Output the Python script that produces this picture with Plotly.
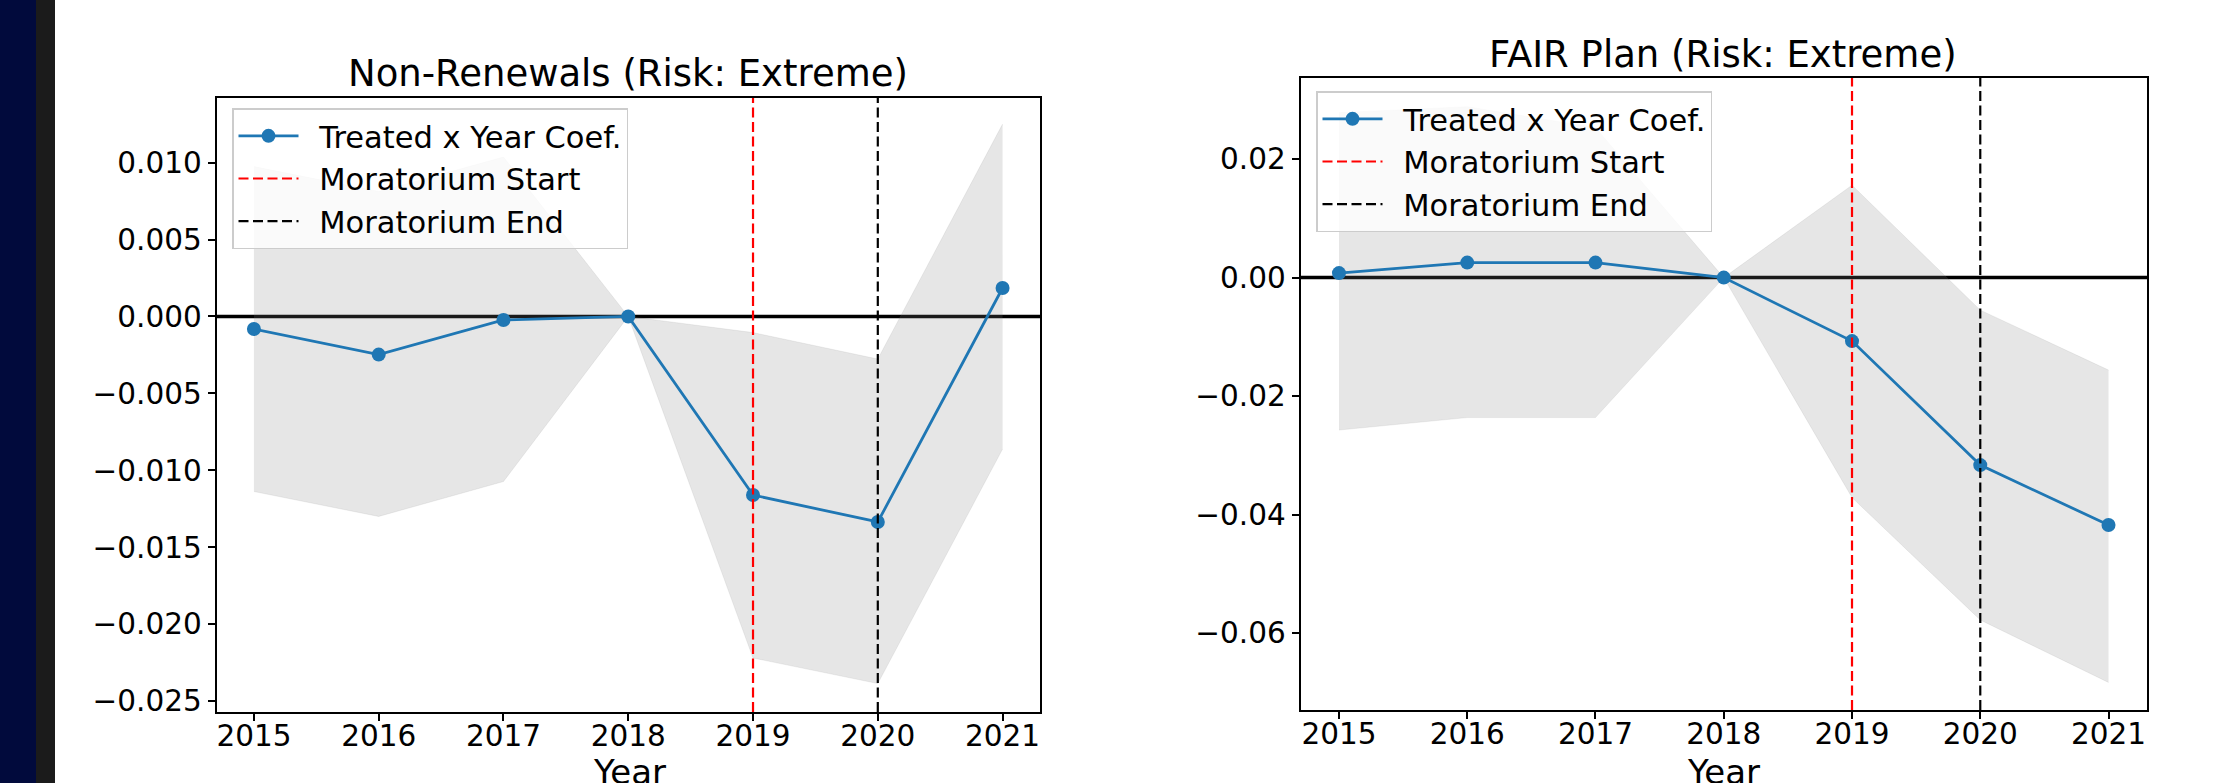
import plotly.graph_objects as go

# ---------------- data ----------------
years = [2015, 2016, 2017, 2018, 2019, 2020, 2021]

nr_coef = [-0.00082, -0.00248, -0.00023, 0.0, -0.01161, -0.01336, 0.00185]
nr_upper = [0.00974, 0.00812, 0.01036, 0.0, -0.00105, -0.00277, 0.01250]
nr_lower = [-0.01138, -0.01300, -0.01073, 0.0, -0.02220, -0.02386, -0.00862]

fp_coef = [0.00076, 0.00253, 0.00253, 0.0, -0.01072, -0.03165, -0.04177]
fp_upper = [0.02785, 0.02886, 0.02532, 0.0, 0.01560, -0.00549, -0.01561]
fp_lower = [-0.02574, -0.02363, -0.02363, 0.0, -0.03713, -0.05780, -0.06835]

moratorium_start = 2019
moratorium_end = 2020

nr_ticks = [0.010, 0.005, 0.0, -0.005, -0.010, -0.015, -0.020, -0.025]
nr_ticktext = ["0.010", "0.005", "0.000", "\u22120.005", "\u22120.010", "\u22120.015", "\u22120.020", "\u22120.025"]
fp_ticks = [0.02, 0.0, -0.02, -0.04, -0.06]
fp_ticktext = ["0.02", "0.00", "\u22120.02", "\u22120.04", "\u22120.06"]

titles = ["Non-Renewals (Risk: Extreme)", "FAIR Plan (Risk: Extreme)"]
xlabel = "Year"
legend_names = ["Treated x Year Coef.", "Moratorium Start", "Moratorium End"]

# ---------------- layout geometry ----------------
W, H = 2231, 783
FONT = "DejaVu Sans"
BLUE = "#1f77b4"
PAD = "\u00a0\u2009"  # small gap between legend symbol and text

nr_range = [-0.02571, 0.01423]
fp_range = [-0.0730, 0.0337]
x_range = [2014.7, 2021.3]

def px_x(p):
    return p / W

def px_y(p):
    return 1 - p / H

fig = go.Figure()

panels = [
    dict(coef=nr_coef, up=nr_upper, lo=nr_lower, xa="x", ya="y", leg="legend", yr=nr_range),
    dict(coef=fp_coef, up=fp_upper, lo=fp_lower, xa="x2", ya="y2", leg="legend2", yr=fp_range),
]

for p in panels:
    # confidence band
    fig.add_trace(go.Scatter(x=years, y=p["up"], mode="lines", line=dict(width=0.8, color="rgba(128,128,128,0.15)"),
                             showlegend=False, hoverinfo="skip", xaxis=p["xa"], yaxis=p["ya"]))
    fig.add_trace(go.Scatter(x=years, y=p["lo"], mode="lines", line=dict(width=0.8, color="rgba(128,128,128,0.15)"),
                             fill="tonexty", fillcolor="rgba(128,128,128,0.2)",
                             showlegend=False, hoverinfo="skip", xaxis=p["xa"], yaxis=p["ya"]))
    # coefficient line
    fig.add_trace(go.Scatter(x=years, y=p["coef"], mode="lines+markers", name=PAD + legend_names[0],
                             line=dict(color=BLUE, width=2.8), marker=dict(color=BLUE, size=14),
                             xaxis=p["xa"], yaxis=p["ya"], legend=p["leg"]))
    # moratorium lines
    fig.add_trace(go.Scatter(x=[moratorium_start, moratorium_start], y=p["yr"], mode="lines",
                             name=PAD + legend_names[1],
                             line=dict(color="red", width=2.2, dash="10px,4.5px"),
                             xaxis=p["xa"], yaxis=p["ya"], legend=p["leg"]))
    fig.add_trace(go.Scatter(x=[moratorium_end, moratorium_end], y=p["yr"], mode="lines",
                             name=PAD + legend_names[2],
                             line=dict(color="black", width=2.2, dash="10px,4.5px"),
                             xaxis=p["xa"], yaxis=p["ya"], legend=p["leg"]))
    # zero line
    fig.add_shape(type="line", xref=p["xa"] + " domain", yref=p["ya"], x0=0, x1=1, y0=0, y1=0,
                  line=dict(color="black", width=3.5), layer="below")

axis_common = dict(showgrid=False, zeroline=False, showline=True, linecolor="black", linewidth=1.8,
                   mirror=True, ticks="outside", ticklen=7, tickwidth=1.6, tickcolor="black",
                   tickfont=dict(family=FONT, size=29.5, color="black"), automargin=False)

legend_common = dict(xanchor="left", yanchor="top", traceorder="normal",
                     bgcolor="rgba(255,255,255,0.8)", bordercolor="#cccccc", borderwidth=1.5,
                     font=dict(family=FONT, size=30.5, color="black"), itemwidth=60)

fig.update_layout(
    width=W, height=H,
    margin=dict(l=0, r=0, t=0, b=0),
    paper_bgcolor="white", plot_bgcolor="white",
    font=dict(family=FONT, color="black"),
    xaxis=dict(domain=[px_x(216.5), px_x(1040)], range=x_range, tickvals=years, anchor="y",
               ticklabelstandoff=-10, **axis_common),
    yaxis=dict(domain=[px_y(712), px_y(97.5)], range=nr_range, tickvals=nr_ticks, ticktext=nr_ticktext,
               anchor="x", **axis_common),
    xaxis2=dict(domain=[px_x(1300.5), px_x(2147)], range=x_range, tickvals=years, anchor="y2",
                ticklabelstandoff=-10, **axis_common),
    yaxis2=dict(domain=[px_y(710), px_y(78)], range=fp_range, tickvals=fp_ticks, ticktext=fp_ticktext,
                anchor="x2", **axis_common),
    legend=dict(x=px_x(232), y=px_y(108), **legend_common),
    legend2=dict(x=px_x(1316), y=px_y(91), **legend_common),
    showlegend=True,
)

# left decorative strips
fig.add_shape(type="rect", xref="paper", yref="paper", x0=0, x1=px_x(36), y0=0, y1=1,
              fillcolor="#010a3c", line=dict(width=0), layer="below")
fig.add_shape(type="rect", xref="paper", yref="paper", x0=px_x(36), x1=px_x(55), y0=0, y1=1,
              fillcolor="#1b1b1b", line=dict(width=0), layer="below")

# titles and x labels
for cx, ty, title in [(628, 73, titles[0]), (1723.5, 54, titles[1])]:
    fig.add_annotation(text=title, x=px_x(cx), y=px_y(ty), xref="paper", yref="paper",
                       xanchor="center", yanchor="middle", showarrow=False,
                       font=dict(family=FONT, size=37, color="black"))
for cx in [629, 1723.5]:
    fig.add_annotation(text=xlabel, x=px_x(cx), y=px_y(772), xref="paper", yref="paper",
                       xanchor="center", yanchor="middle", showarrow=False,
                       font=dict(family=FONT, size=34, color="black"))

fig.write_html("out.html", config={"displayModeBar": False},
               post_script="document.body.style.margin='0';")
